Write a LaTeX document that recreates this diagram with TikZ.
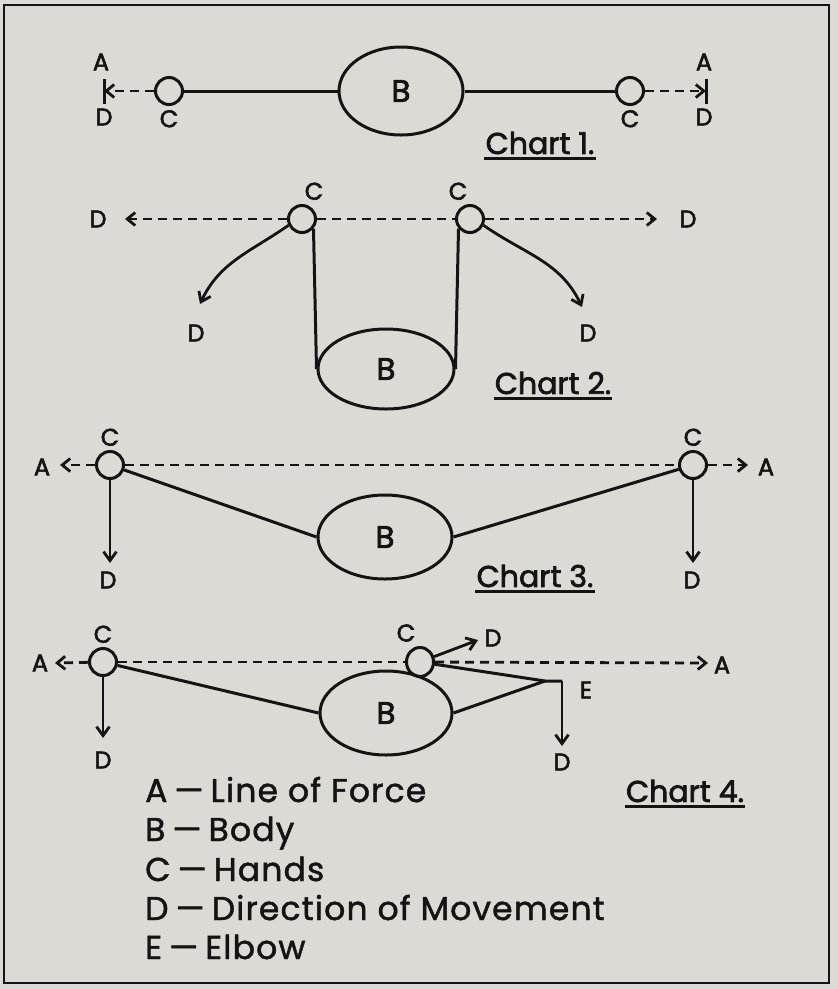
\documentclass[tikz,border=0pt]{standalone}
\usepackage{fontspec}
\setmainfont{Poppins}
\newfontfamily\inkfont{Poppins}[FakeBold=2.4]
\newfontfamily\keyfont{Poppins}[FakeBold=1.4, LetterSpace=3.5]
\usetikzlibrary{arrows.meta,positioning,shapes.geometric}
\definecolor{paper}{RGB}{219,218,213}
\definecolor{ink}{RGB}{20,20,20}
\newcommand{\keydash}{\hspace{7pt}—\hspace{7pt}}
\tikzset{
  hand/.style={draw=ink, circle, line width=3pt, minimum size=27pt, inner sep=0pt},
  body/.style={draw=ink, ellipse, line width=3pt, inner sep=0pt, text=ink, font=\inkfont\fontsize{31}{34}\selectfont},
  lbl/.style={text=ink, inner sep=1pt, font=\inkfont\fontsize{24}{28}\selectfont},
  limb/.style={draw=ink, line width=3pt},
  force/.style={draw=ink, line width=2.8pt, dash pattern=on 9pt off 6pt, -{Straight Barb[length=8pt,width=13pt]}},
  forceline/.style={draw=ink, line width=2.8pt, dash pattern=on 9pt off 6pt},
  move/.style={draw=ink, line width=2.8pt, -{Straight Barb[length=9pt,width=13pt]}},
  charttitle/.style={text=ink, inner sep=1pt, font=\inkfont\fontsize{30}{34}\selectfont},
  key/.style={text=ink, anchor=base west, inner sep=0pt, font=\keyfont\fontsize{33}{38}\selectfont}
}
\begin{document}
\begin{tikzpicture}[x=1pt, y=1pt]
\useasboundingbox (0,0) rectangle (838,-989);
\fill[paper] (0,0) rectangle (838,-989);
\draw[ink, line width=2.4pt] (4,-5) rectangle (829,-983);

% Chart 1
\node[body, minimum width=124pt, minimum height=88pt] (b1) at (401,-91) {B};
\node[hand] (c1l) at (169,-91) {};
\node[hand] (c1r) at (630,-91) {};
\coordinate (a1l) at (104,-91);
\coordinate (a1r) at (706,-91);
\draw[limb] (c1l) -- (b1);
\draw[limb] (b1) -- (c1r);
\draw[force] (c1l) -- (a1l);
\draw[force] (c1r) -- (a1r);
\draw[limb] (104,-79) -- (104,-104);
\draw[limb] (706,-79) -- (706,-104);
\node[lbl] (t1al) at (101,-62) {A};
\node[lbl] (t1ar) at (704,-62) {A};
\node[lbl] (t1dl) at (104,-117) {D};
\node[lbl] (t1dr) at (704,-117) {D};
\node[lbl, below=3pt of c1l] (t1cl) {C};
\node[lbl, below=3pt of c1r] (t1cr) {C};
\node[charttitle] (h1) at (540,-143) {Chart 1.};
\draw[limb] ([yshift=-3pt]h1.south west) -- ([yshift=-3pt]h1.south east);

% Chart 2
\node[body, minimum width=136pt, minimum height=80pt] (b2) at (386,-369) {B};
\node[hand] (c2l) at (302,-219) {};
\node[hand] (c2r) at (470,-219) {};
\coordinate (d2l) at (125,-219);
\coordinate (d2r) at (657,-219);
\coordinate (d2sl) at (200,-304);
\coordinate (d2sr) at (582,-307);
\draw[forceline] (c2l) -- (c2r);
\draw[force] (c2l) -- (d2l);
\draw[force] (c2r) -- (d2r);
\draw[limb] (c2l.-40) -- (b2.west);
\draw[limb] (c2r.220) -- (b2.east);
\draw[move] (c2l.205) to[out=215, in=65] (d2sl);
\draw[move] (c2r.-25) to[out=-35, in=115] (d2sr);
\node[lbl] (t2dl) at (98,-219) {D};
\node[lbl] (t2dr) at (688,-219) {D};
\node[lbl] (t2dsl) at (196,-333) {D};
\node[lbl] (t2dsr) at (588,-333) {D};
\node[lbl, above=3pt of c2l, xshift=12pt] (t2cl) {C};
\node[lbl, above=3pt of c2r, xshift=-12pt] (t2cr) {C};
\node[charttitle] (h2) at (553,-383) {Chart 2.};
\draw[limb] ([yshift=-3pt]h2.south west) -- ([yshift=-3pt]h2.south east);

% Chart 3
\node[body, minimum width=134pt, minimum height=84pt] (b3) at (385,-537) {B};
\node[hand] (c3l) at (110,-465) {};
\node[hand] (c3r) at (693,-465) {};
\coordinate (a3l) at (60,-465);
\coordinate (a3r) at (748,-465);
\coordinate (d3l) at (110,-563);
\coordinate (d3r) at (693,-563);
\draw[forceline] (c3l) -- (c3r);
\draw[force] (c3l) -- (a3l);
\draw[force] (c3r) -- (a3r);
\draw[limb] (c3l) -- (b3.west);
\draw[limb] (c3r) -- (b3.east);
\draw[move] (c3l) -- (d3l);
\draw[move] (c3r) -- (d3r);
\node[lbl] (t3al) at (42,-467) {A};
\node[lbl] (t3ar) at (766,-467) {A};
\node[lbl, above=3pt of c3l] (t3cl) {C};
\node[lbl, above=3pt of c3r] (t3cr) {C};
\node[lbl] (t3dl) at (108,-580) {D};
\node[lbl] (t3dr) at (692,-580) {D};
\node[charttitle] (h3) at (535,-576) {Chart 3.};
\draw[limb] ([yshift=-3pt]h3.south west) -- ([yshift=-3pt]h3.south east);

% Chart 4
\node[body, minimum width=132pt, minimum height=84pt] (b4) at (386,-713) {B};
\node[hand] (c4l) at (103,-662) {};
\node[hand, minimum width=27pt, minimum height=29pt, ellipse] (c4m) at (420,-662) {};
\coordinate (a4l) at (55,-663);
\coordinate (a4r) at (708,-663);
\coordinate (e4) at (545,-681);
\coordinate (k4) at (562,-681);
\coordinate (d4l) at (103,-738);
\coordinate (d4r) at (562,-746);
\coordinate (d4m) at (478,-640);
\draw[forceline] (c4l) -- (c4m);
\draw[force] (c4l) -- (a4l);
\draw[force] (c4m) -- (a4r);
\draw[limb] (c4l) -- (b4.west);
\draw[limb] (c4m) -- (e4) -- (k4);
\draw[limb] (e4) -- (b4.east);
\draw[move] (k4) -- (d4r);
\draw[move] (c4l) -- (d4l);
\draw[move] (c4m) -- (d4m);
\node[lbl] (t4al) at (40,-663) {A};
\node[lbl] (t4ar) at (722,-665) {A};
\node[lbl, above=3pt of c4l] (t4cl) {C};
\node[lbl] (t4cm) at (406,-633) {C};
\node[lbl] (t4dm) at (493,-638) {D};
\node[lbl] (t4e) at (586,-690) {E};
\node[lbl] (t4dl) at (103,-760) {D};
\node[lbl] (t4dr) at (562,-762) {D};
\node[charttitle] (h4) at (685,-791) {Chart 4.};
\draw[limb] ([yshift=-3pt]h4.south west) -- ([yshift=-3pt]h4.south east);

% key
\node[key] (ka) at (145,-802) {A\keydash Line of Force};
\node[key] (kb) at (145,-841) {B\keydash Body};
\node[key] (kc) at (145,-881) {C\keydash Hands};
\node[key] (kd) at (145,-920) {D\keydash Direction of Movement};
\node[key] (ke) at (145,-959) {E\keydash Elbow};
\end{tikzpicture}
\end{document}
